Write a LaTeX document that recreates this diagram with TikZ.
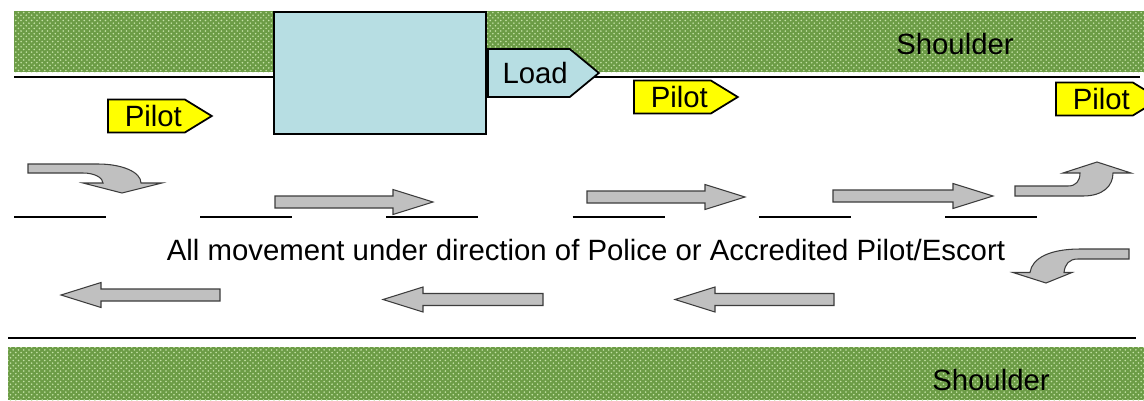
\documentclass[tikz,border=0pt]{standalone}
\usepackage{fontspec}
\setmainfont{Liberation Sans}
\usepackage{tikz}
\usetikzlibrary{arrows.meta,positioning,patterns,shapes.symbols}
\definecolor{ShoulderGreen}{RGB}{108,156,70}
\definecolor{DotGreen}{RGB}{196,226,166}
\definecolor{LoadBlue}{RGB}{183,222,227}
\definecolor{PilotYellow}{RGB}{255,255,0}
\definecolor{ArrowGray}{RGB}{192,192,192}
\definecolor{EdgeGray}{RGB}{60,60,60}
\tikzset{
  roadfont/.style={font=\fontsize{16.7}{20}\selectfont},
  signtag/.style={signal,signal to=east,draw,line width=1pt,anchor=west,
    inner ysep=0pt,align=right,roadfont},
  pilottag/.style={signtag,fill=PilotYellow,signal pointer angle=63,
    inner xsep=1.7pt,text width=1.42cm,minimum height=0.66cm},
  loadtag/.style={signtag,fill=LoadBlue,signal pointer angle=79,
    inner xsep=1.1pt,text width=1.56cm,minimum height=0.96cm},
  blockarrow/.style={fill=ArrowGray,draw=EdgeGray,line width=0.6pt,line join=miter},
  roadline/.style={line width=1.2pt,black}
}

\begin{document}
\begin{tikzpicture}[x=0.02cm,y=-0.02cm,>=Latex]
  \useasboundingbox (0,0) rectangle (1144,400);
  \fill[white] (0,0) rectangle (1144,400);
  % shoulders
  \fill[ShoulderGreen] (14,11) rectangle (1144,72);
  \fill[pattern=crosshatch dots,pattern color=DotGreen] (14,11) rectangle (1144,72);
  \fill[ShoulderGreen] (8,347) rectangle (1144,400);
  \fill[pattern=crosshatch dots,pattern color=DotGreen] (8,347) rectangle (1144,400);
  \node[roadfont] (topshoulder) at (955,44) {Shoulder};
  \node[roadfont] (bottomshoulder) at (991,380) {Shoulder};
  % road edges and lane dashes
  \draw[roadline] (14,77) -- (1140,77);
  \draw[roadline] (8,338) -- (1136,338);
  \foreach \k in {0,...,5}
    \draw[roadline] (14+186.2*\k,217) -- (106+186.2*\k,217);
  % load and pilots
  \node[draw,line width=1.2pt,fill=LoadBlue,minimum width=4.24cm,
    minimum height=2.44cm,inner sep=0pt] (loadbox) at (380,73) {};
  \node[loadtag,right=0pt of loadbox] (loadsign) {Load};
  \node[pilottag] (pilotrear) at (107,116) {Pilot};
  \node[pilottag] (pilotfront) at (633,97) {Pilot};
  \node[pilottag] (pilotlead) at (1055,99) {Pilot};
  % straight movement arrows
  \foreach \xa/\xb/\yc in {275/433/202,587/745/197,833/993/196}
    \draw[blockarrow] (\xa,\yc-6) -- (\xb-40,\yc-6) -- (\xb-40,\yc-12.5)
      -- (\xb,\yc) -- (\xb-40,\yc+12.5) -- (\xb-40,\yc+6) -- (\xa,\yc+6) -- cycle;
  \foreach \xa/\xb/\yc in {220/61/295,543/383/299.5,834/675/299.5}
    \draw[blockarrow] (\xa,\yc-6) -- (\xb+40,\yc-6) -- (\xb+40,\yc-12.5)
      -- (\xb,\yc) -- (\xb+40,\yc+12.5) -- (\xb+40,\yc+6) -- (\xa,\yc+6) -- cycle;
  % turning arrows
  \draw[blockarrow] (28,164) -- (98,164) .. controls (122,164) and (141,172) .. (141,183)
    -- (162,183) -- (122,193) -- (83,183) -- (103,183)
    .. controls (103,178) and (95,173) .. (83,173) -- (28,173) -- cycle;
  \draw[blockarrow] (1015,196) -- (1083,196) .. controls (1103,196) and (1113,186) .. (1113,173)
    -- (1131,173) -- (1097,162) -- (1063,173) -- (1080,173)
    .. controls (1080,181) and (1076,186) .. (1068,186) -- (1015,186) -- cycle;
  \draw[blockarrow] (1129,249) -- (1080,249) .. controls (1050,249) and (1032,258) .. (1030,272.5)
    -- (1013,272.5) -- (1046,283) -- (1072,272.5) -- (1064,272.5)
    .. controls (1065,264) and (1069,259) .. (1078,259) -- (1129,259) -- cycle;
  % note
  \node[roadfont] (note) at (586,250) {All movement under direction of Police or Accredited Pilot/Escort};
\end{tikzpicture}
\end{document}
